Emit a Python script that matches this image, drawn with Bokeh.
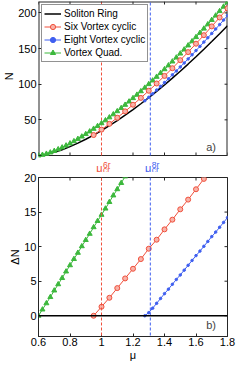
import math
from bokeh.plotting import figure
from bokeh.models import Span, Label, Legend, LegendItem, FixedTicker, Range1d
from bokeh.core.properties import value
from bokeh.layouts import column
from bokeh.embed import file_html
from bokeh.resources import INLINE

# ---------------- data ----------------
mu_ring = [0.6, 0.65, 0.7, 0.75, 0.8, 0.85, 0.9, 0.95, 1.0, 1.05, 1.1, 1.15, 1.2,
           1.25, 1.3, 1.35, 1.4, 1.45, 1.5, 1.55, 1.6, 1.65, 1.7, 1.75, 1.8]
N_ring = [0.0, 1.55, 4.38, 8.05, 12.39, 17.31, 22.76, 28.68, 35.04, 41.81, 48.97, 56.49,
          64.37, 72.58, 81.11, 89.96, 99.10, 108.54, 118.25, 128.24, 138.50, 149.02,
          159.79, 170.80, 182.06]

mu_six = [0.95, 1.0, 1.05, 1.1, 1.15, 1.2, 1.25, 1.3, 1.35, 1.4, 1.45, 1.5, 1.55,
          1.6, 1.65, 1.7, 1.75, 1.8]
N_six = [28.7, 36.3, 44.4, 53.0, 61.9, 71.2, 80.8, 90.8, 101.0, 111.6, 122.4, 133.7,
         145.0, 156.8, 168.8, 181.1, 193.6, 206.4]
dN_six = [0.0, 1.3, 2.6, 4.0, 5.4, 6.8, 8.2, 9.7, 11.0, 12.5, 13.9, 15.4, 16.8, 18.3,
          19.8, 21.3, 22.8, 24.3]

mu_eight = [1.275, 1.3, 1.325, 1.35, 1.375, 1.4, 1.425, 1.45, 1.475, 1.5, 1.525, 1.55,
            1.575, 1.6, 1.625, 1.65, 1.675, 1.7, 1.725, 1.75, 1.775, 1.8]
N_eight = [76.8, 81.6, 86.6, 91.8, 97.0, 102.3, 107.6, 113.1, 118.6, 124.2, 129.8, 135.5,
           141.3, 147.2, 153.1, 159.1, 165.1, 171.2, 177.4, 183.6, 189.9, 196.3]
dN_eight = [0.0, 0.45, 1.1, 1.8, 2.5, 3.2, 3.85, 4.55, 5.25, 5.9, 6.6, 7.3, 8.0, 8.7,
            9.35, 10.05, 10.75, 11.45, 12.1, 12.8, 13.5, 14.2]

mu_quad = [0.6, 0.625, 0.65, 0.675, 0.7, 0.725, 0.75, 0.775, 0.8, 0.825, 0.85, 0.875,
           0.9, 0.925, 0.95, 0.975, 1.0, 1.025, 1.05, 1.075, 1.1, 1.125, 1.15, 1.175,
           1.2, 1.225, 1.25, 1.275, 1.3, 1.325, 1.35, 1.375, 1.4, 1.425, 1.45, 1.475,
           1.5, 1.525, 1.55, 1.575, 1.6, 1.625, 1.65, 1.675, 1.7, 1.725, 1.75, 1.775, 1.8]
N_quad = [0.0, 0.88, 2.36, 4.19, 6.31, 8.67, 11.22, 13.97, 16.89, 19.96, 23.19, 26.54,
          30.03, 33.65, 37.39, 41.23, 45.19, 49.25, 53.41, 57.68, 62.04, 66.48, 71.03,
          75.65, 80.37, 85.17, 90.04, 95.00, 100.03, 105.14, 110.33, 115.58, 120.93,
          126.32, 131.79, 137.33, 142.94, 148.61, 154.35, 160.13, 166.0, 171.93, 177.91,
          183.95, 190.05, 196.23, 202.45, 208.72, 215.05]
mu_quad_dN = [0.6, 0.625, 0.65, 0.675, 0.7, 0.725, 0.75, 0.775, 0.8, 0.825, 0.85, 0.875,
              0.9, 0.925, 0.95, 0.975, 1.0, 1.025, 1.05, 1.075, 1.1, 1.125, 1.15, 1.175]
dN_quad = [0.0, 0.9, 1.8, 2.7, 3.65, 4.55, 5.45, 6.4, 7.3, 8.2, 9.1, 10.05, 10.95, 11.85,
           12.8, 13.7, 14.6, 15.5, 16.45, 17.4, 18.3, 19.2, 20.15, 21.1]

mu_cr6 = 1.0
mu_cr8 = 1.31

x_ticks = [0.6, 0.8, 1.0, 1.2, 1.4, 1.6, 1.8]
x_tick_labels = ["0.6", "0.8", "1", "1.2", "1.4", "1.6", "1.8"]
N_ticks = [0, 50, 100, 150, 200]
dN_ticks = [0, 5, 10, 15, 20]

series_names = ["Soliton Ring", "Six Vortex cyclic", "Eight Vortex cyclic", "Vortex Quad."]

# ---------------- style / layout constants ----------------
FONT = "Liberation Sans"
RED = "#f0503c"
RED_FILL = "#f8b2a8"
BLUE = "#3f5ff0"
GREEN = "#3cb83c"
DARK = "#262626"
W = 237
BL = 33            # left border (px)
BR = 10            # right border (px)
FW = W - BL - BR   # frame width (px)
XR = (0.6, 1.8)
TICK = 3           # inward tick length (px)

# top panel: box of 154 px, plus a 17 px strip below it (inside the same frame)
# that carries the critical-mu labels
N_TOP = 216
BOX1_PX = 154
STRIP_PX = 17
N_LO = -N_TOP * STRIP_PX / BOX1_PX
N_PER_PX = (N_TOP - N_LO) / (BOX1_PX + STRIP_PX)
MU_PER_PX = (XR[1] - XR[0]) / FW

dN_range = (-3, 20)


def style_axis(ax, ticks, overrides=None):
    ax.ticker = FixedTicker(ticks=ticks)
    ax.major_tick_in = TICK
    ax.major_tick_out = 0
    ax.minor_tick_line_color = None
    ax.axis_line_color = DARK
    ax.major_tick_line_color = DARK
    ax.major_label_text_font = FONT
    ax.major_label_text_color = "#000000"
    ax.major_label_text_font_size = "11px"
    ax.major_label_standoff = 2
    ax.axis_label_text_font = FONT
    ax.axis_label_text_font_size = "11px"
    ax.axis_label_text_font_style = "normal"
    ax.axis_label_text_color = "#000000"
    ax.axis_label_standoff = 0
    if overrides:
        ax.major_label_overrides = overrides


# ---------------- top panel ----------------
p1 = figure(width=W, height=1 + BOX1_PX + STRIP_PX, x_range=Range1d(*XR),
            y_range=Range1d(N_LO, N_TOP), x_axis_type=None,
            output_backend="svg", toolbar_location=None,
            min_border_left=BL, min_border_right=BR, min_border_top=1, min_border_bottom=0)
p1.grid.visible = False
p1.outline_line_color = None
style_axis(p1.yaxis[0], N_ticks)
p1.yaxis[0].axis_line_color = None
p1.yaxis[0].axis_label = "\u00a0" * 7 + "N"

# box of the top panel (left, top, right edges sit on the frame edge -> width 2)
p1.segment(x0=[XR[0], XR[0], XR[1]], y0=[0, N_TOP, 0],
           x1=[XR[0], XR[1], XR[1]], y1=[N_TOP, N_TOP, N_TOP],
           line_color=DARK, line_width=2)
p1.segment(x0=[XR[0]], y0=[0], x1=[XR[1]], y1=[0], line_color=DARK, line_width=1.2)
# inward ticks on bottom, top and right
p1.segment(x0=x_ticks, y0=[0] * len(x_ticks), x1=x_ticks,
           y1=[TICK * N_PER_PX] * len(x_ticks), line_color=DARK, line_width=1)
p1.segment(x0=x_ticks, y0=[N_TOP - TICK * N_PER_PX] * len(x_ticks), x1=x_ticks,
           y1=[N_TOP] * len(x_ticks), line_color=DARK, line_width=1)
p1.segment(x0=[XR[1] - TICK * MU_PER_PX] * len(N_ticks), y0=N_ticks,
           x1=[XR[1]] * len(N_ticks), y1=N_ticks, line_color=DARK, line_width=1)

for loc, col in [(mu_cr6, RED), (mu_cr8, BLUE)]:
    p1.segment(x0=[loc], y0=[0], x1=[loc], y1=[N_TOP], line_color=col,
               line_dash="3 2", line_width=1)

r_ring = p1.line(mu_ring, N_ring, line_color="black", line_width=1.5)
l_quad = p1.line(mu_quad, N_quad, line_color=GREEN, line_width=1)
s_quad = p1.scatter(mu_quad, N_quad, marker="triangle", size=5, fill_color=GREEN,
                    line_color=GREEN)
l_six = p1.line(mu_six, N_six, line_color=RED, line_width=1)
s_six = p1.scatter(mu_six, N_six, marker="circle", size=5, fill_color=RED_FILL,
                   line_color=RED, line_width=1)
l_eight = p1.line(mu_eight, N_eight, line_color=BLUE, line_width=1)
s_eight = p1.scatter(mu_eight, N_eight, marker="circle", size=2.5, fill_color=BLUE,
                     line_color=BLUE)

legend = Legend(items=[
    LegendItem(label=series_names[0], renderers=[r_ring]),
    LegendItem(label=series_names[1], renderers=[l_six, s_six]),
    LegendItem(label=series_names[2], renderers=[l_eight, s_eight]),
    LegendItem(label=series_names[3], renderers=[l_quad, s_quad]),
], location="top_left", margin=3, padding=2, spacing=0, label_height=13,
    glyph_height=13, glyph_width=17, label_standoff=3,
    label_text_font=FONT, label_text_font_size="10px", label_text_color="#000000",
    border_line_color=DARK, border_line_width=1, background_fill_color="white",
    background_fill_alpha=1.0)
p1.add_layout(legend)
p1.add_layout(Label(x=1.665, y=9 * N_PER_PX, text="a)", text_align="left",
                    text_baseline="middle", text_font=FONT, text_font_size="11px"))

# critical-mu labels (text glyphs) in the strip below the top box
for loc, col, sup in [(mu_cr6, RED, "6r"), (mu_cr8, BLUE, "8r")]:
    p1.text(x=[loc], y=[-12.8 * N_PER_PX], text=["μ"], x_offset=1.0,
            text_align="right", text_baseline="alphabetic", text_font=value(FONT),
            text_font_size=value("11px"), text_color=col)
    p1.text(x=[loc], y=[-14.6 * N_PER_PX], text=["cr"], x_offset=1.5,
            text_align="left", text_baseline="alphabetic", text_font=value(FONT),
            text_font_size=value("8.5px"), text_color=col)
    p1.text(x=[loc], y=[-9.4 * N_PER_PX], text=[sup], x_offset=1.5,
            text_align="left", text_baseline="alphabetic", text_font=value(FONT),
            text_font_size=value("8.5px"), text_color=col)

# ---------------- bottom panel ----------------
p2 = figure(width=W, height=5 + 159 + 27, x_range=p1.x_range, y_range=Range1d(*dN_range),
            output_backend="svg", toolbar_location=None,
            min_border_left=BL, min_border_right=BR, min_border_top=5, min_border_bottom=27)
p2.grid.visible = False
p2.outline_line_color = DARK
style_axis(p2.xaxis[0], x_ticks, dict(zip(x_ticks, x_tick_labels)))
p2.xaxis[0].major_label_standoff = 1
style_axis(p2.yaxis[0], dN_ticks)
p2.xaxis[0].axis_label = "μ"
p2.yaxis[0].axis_label = "ΔN"
p2.scatter(x_ticks, [dN_range[1]] * len(x_ticks), marker="dash", angle=math.pi / 2,
           size=2 * TICK, line_color=DARK, line_width=1)
p2.scatter([XR[1]] * len(dN_ticks), dN_ticks, marker="dash", size=2 * TICK,
           line_color=DARK, line_width=1)

for loc, col in [(mu_cr6, RED), (mu_cr8, BLUE)]:
    p2.add_layout(Span(location=loc, dimension="height", line_color=col,
                       line_dash="3 2", line_width=1))
p2.add_layout(Span(location=0, dimension="width", line_color="black", line_width=1.5))

p2.line(mu_quad_dN, dN_quad, line_color=GREEN, line_width=1)
p2.scatter(mu_quad_dN, dN_quad, marker="triangle", size=5, fill_color=GREEN,
           line_color=GREEN)
p2.line(mu_six, dN_six, line_color=RED, line_width=1)
p2.scatter(mu_six, dN_six, marker="circle", size=5, fill_color=RED_FILL,
           line_color=RED, line_width=1)
p2.line(mu_eight, dN_eight, line_color=BLUE, line_width=1)
p2.scatter(mu_eight, dN_eight, marker="circle", size=2.5, fill_color=BLUE,
           line_color=BLUE)
p2.add_layout(Label(x=1.665, y=-1.3, text="b)", text_align="left", text_baseline="middle",
                    text_font=FONT, text_font_size="11px"))

layout = column(p1, p2)
open("out.html", "w").write(file_html(layout, INLINE))
